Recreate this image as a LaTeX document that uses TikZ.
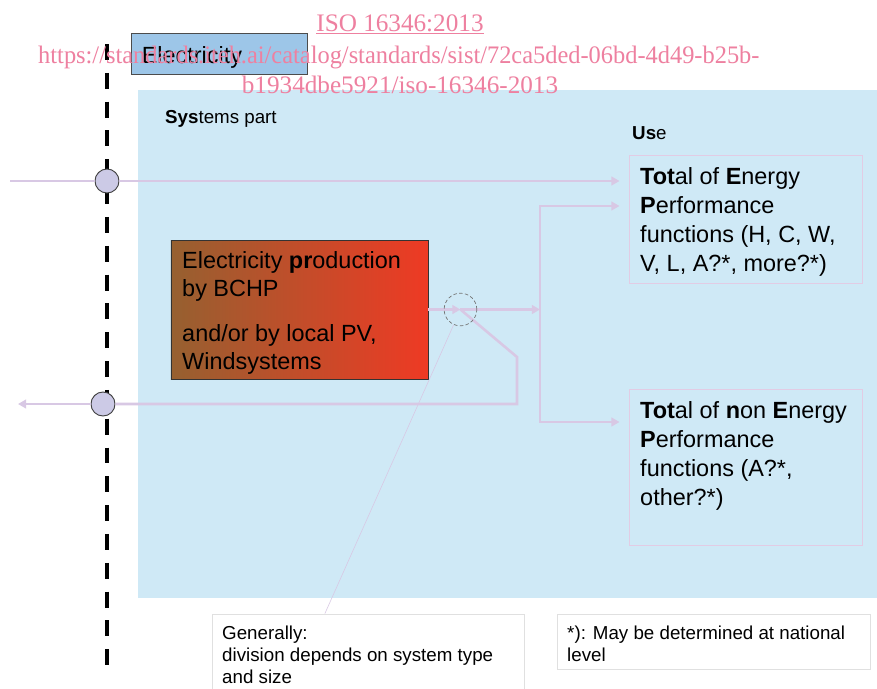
\documentclass[tikz,border=0pt]{standalone}
\usepackage{fontspec}
\setmainfont{Liberation Sans}
\newfontfamily\wmfont{Liberation Serif}
\usetikzlibrary{positioning, calc, arrows.meta}

\definecolor{sysblue}{RGB}{207,233,246}
\definecolor{elecblue}{RGB}{157,198,232}
\definecolor{flowcol}{RGB}{216,200,228}
\definecolor{portfill}{RGB}{204,202,230}
\definecolor{framepink}{RGB}{226,204,228}
\definecolor{wmpink}{RGB}{238,128,160}
\definecolor{prodbrown}{RGB}{150,96,48}
\definecolor{prodmid}{RGB}{212,80,40}
\definecolor{prodred}{RGB}{238,58,36}

\tikzset{
  funcbox/.style={rectangle, draw=framepink, line width=0.8pt},
  notebox/.style={rectangle, draw=black!12, line width=0.6pt, fill=white},
  portcircle/.style={circle, draw=black!75, fill=portfill, minimum size=0.72cm, inner sep=0pt, line width=0.8pt},
  flowline/.style={draw=flowcol, line width=2.2pt},
  flowarrow/.style={flowline, -{Triangle[length=7pt,width=7.5pt]}},
  pointer/.style={draw=flowcol, line width=0.5pt},
  txt/.style={inner sep=0pt, anchor=north west, align=left},
  wm/.style={inner sep=0pt, anchor=base, text=wmpink, font=\wmfont\fontsize{21.5}{24}\selectfont}
}

\begin{document}
\begin{tikzpicture}[x=0.03cm, y=-0.03cm]

\useasboundingbox (0,0) rectangle (877,688);
\clip (0,0) rectangle (877,688);

% Hintergrund
\fill[white] (0,0) rectangle (877,688);
\fill[sysblue] (138,90) rectangle (877,598);

% Systemgrenze
\draw[line width=3.6pt, dash pattern=on 13.6pt off 11pt] (107,44) -- (107,670);

% Knoten
\node (elec) [rectangle, draw=black!70, fill=elecblue, line width=0.8pt, minimum width=5.28cm, minimum height=1.23cm] at (219,53.5) {};
\node (electxt) [txt, anchor=west, font=\fontsize{20}{24}\selectfont] at ([xshift=0.33cm, yshift=-0.12cm]elec.west) {Electricity};

\node (systxt) [txt, font=\fontsize{16}{19}\selectfont] at (165,110) {\textbf{Sys}tems part};
\node (usetxt) [txt, font=\fontsize{16}{19}\selectfont] at (632,126) {\textbf{Us}e};

\node (prod) [rectangle, draw=black!80, line width=0.8pt, minimum width=7.71cm, minimum height=4.17cm,
  left color=prodbrown, middle color=prodmid, right color=prodred] at (299.5,309.5) {};
\node (prodtxt) [txt, font=\fontsize{20}{23.8}\selectfont] at (182,251)
  {Electricity \textbf{pr}oduction\\ by BCHP\\[15pt] and/or by local PV,\\ Windsystems};

\node (tep) [funcbox, minimum width=6.99cm, minimum height=3.84cm] at (745.5,219) {};
\node (teptxt) [txt, font=\fontsize{20}{24.7}\selectfont] at (640,167)
  {\textbf{Tot}al of \textbf{E}nergy\\ \textbf{P}erformance\\ functions (H, C, W,\\ V, L, A?*, more?*)};

\node (tnep) [funcbox, minimum width=6.99cm, minimum height=4.68cm] at (745.5,467) {};
\node (tneptxt) [txt, font=\fontsize{20}{24.7}\selectfont] at (640,401)
  {\textbf{Tot}al of \textbf{n}on \textbf{E}nergy\\ \textbf{P}erformance\\ functions (A?*,\\ other?*)};

\node (gen) [notebox, minimum width=9.36cm, minimum height=2.58cm] at (368,657) {};
\node (gentxt) [txt, font=\fontsize{16}{18.8}\selectfont] at (222,626)
  {Generally:\\ division depends on system type\\ and size};

\node (natnote) [notebox, minimum width=9.39cm, minimum height=1.65cm] at (713.5,641.5) {};
\node (nattxt) [txt, font=\fontsize{16}{18.8}\selectfont] at (567,626)
  {*): May be determined at national\\ level};

\node (pin) [portcircle] at (107,181) {};
\node (pout) [portcircle] at (103,404) {};
\coordinate (wsrc) at (10,181);
\coordinate (wdst) at (18,404);
\coordinate (jn) at ($(prod.east)+(32,0)$);
\coordinate (split) at (540,309.5);
\coordinate (bend) at (517,357);

% Verbindungen
\draw[flowline] (wsrc) -- (pin.west);
\draw[flowarrow] (pin.east) -- ($(tep.west |- pin)+(-9,0)$);
\draw[flowarrow] (prod.east) -- (jn);
\draw[flowarrow] (jn) -- (split);
\draw[flowarrow] (split) |- ($(tep.west)+(-9,-13)$);
\draw[flowarrow] (split) |- ($(tnep.west)+(-9,-45)$);
\draw[flowline] (jn) -- (bend) -- (bend |- pout) -- (pout.east);
\draw[flowarrow] (pout.west) -- (wdst);

\node (dc) [circle, draw=black!55, densely dashed, line width=0.6pt, minimum size=0.98cm, inner sep=0pt] at (jn) {};
\draw[pointer] (dc.246) -- ($(gen.north west)!0.362!(gen.north east)$);

% Wasserzeichen
\node (wmtitle) [wm] at (400,31) {\underline{ISO 16346:2013}};
\node (wmurl) [wm, anchor=base west, xscale=0.969] at (38,63) {https://standards.iteh.ai/catalog/standards/sist/72ca5ded-06bd-4d49-b25b-};
\node (wmid) [wm] at (400,93) {b1934dbe5921/iso-16346-2013};

\end{tikzpicture}
\end{document}
